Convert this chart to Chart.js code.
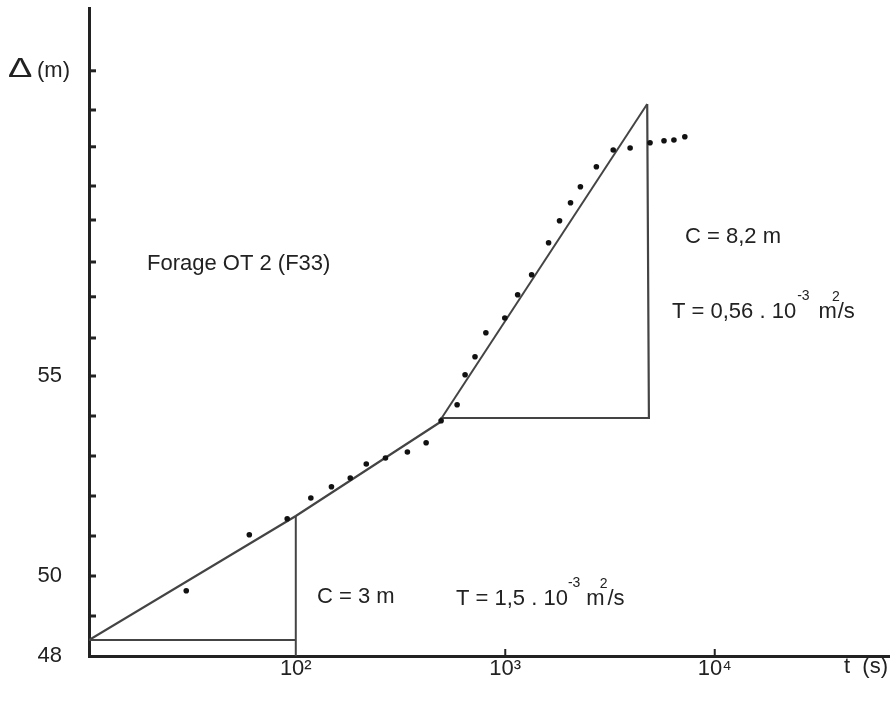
<!DOCTYPE html>
<html>
<head>
<meta charset="utf-8">
<title>Forage OT 2 (F33)</title>
<script src="https://cdn.jsdelivr.net/npm/chart.js@4.4.1/dist/chart.umd.min.js"></script>
<style>
  html, body { margin: 0; padding: 0; background: #fff; }
  #wrap { width: 893px; height: 706px; }
</style>
</head>
<body>
<div id="wrap"><canvas id="myChart" width="893" height="706"></canvas></div>
<script>
'use strict';
const ink = '#222';
const pencil = '#444';
const fontFamily = "'Liberation Sans', Arial, sans-serif";

// measured drawdown, time in s and drawdown in m
const pointTimes = [30, 60, 91, 118, 148, 182, 217, 268, 341, 419, 494, 589, 643, 717, 808, 995, 1146, 1336, 1610, 1816, 2049, 2284, 2722, 3276, 3945, 4910, 5725, 6385, 7197];
const pointDrawdowns = [49.63, 51.03, 51.43, 51.95, 52.23, 52.45, 52.8, 52.95, 53.1, 53.33, 53.88, 54.28, 55.03, 55.48, 56.08, 56.45, 57.03, 57.53, 58.33, 58.88, 59.33, 59.73, 60.23, 60.65, 60.7, 60.83, 60.88, 60.9, 60.98];

// first straight line (C = 3 m) and its construction lines
const fitATimes = [10.3, 100, 490];
const fitADrawdowns = [48.4, 51.5, 53.85];
const baseATimes = [10.3, 100];
const baseADrawdowns = [48.4, 48.4];
const riseATimes = [100, 100];
const riseADrawdowns = [48, 51.5];

// second straight line (C = 8,2 m) and its construction lines
const fitBTimes = [490, 4760];
const fitBDrawdowns = [53.9, 61.8];
const baseBTimes = [490, 4850, 4760];
const baseBDrawdowns = [53.95, 53.95, 61.8];

// axes
const xMin = 10.3;
const xMax = 67900;
const yMin = 48;
const yMax = 64.2;
const decadeTicks = [100, 1000, 10000];
const decadeLabels = ['10²', '10³', '10⁴'];
const yLabelTicks = [48, 50, 55];
// hand-drawn marks on the y axis (upper ones drift a little)
const yMarkTicks = [49, 50, 51, 52, 53, 54, 55, 55.95, 56.98, 57.85, 58.9, 59.75, 60.73, 61.65, 62.63];
const xMarkTicks = [1000, 10000];

function toPoints(xs, ys) {
  let pts = [];
  for (let i = 0; i < xs.length; i++) {
    pts.push({ x: xs[i], y: ys[i] });
  }
  return pts;
}

function lineSet(xs, ys, width) {
  return {
    data: toPoints(xs, ys),
    showLine: true,
    borderColor: pencil,
    borderWidth: width,
    pointRadius: 0,
    fill: false,
    tension: 0,
  };
}

// draws a run of text pieces: [text, size, rise, dx]
function drawPieces(ctx, pieces, x, baseline) {
  let cx = x;
  for (const p of pieces) {
    ctx.font = p[1] + 'px ' + fontFamily;
    cx += p[3] || 0;
    ctx.fillText(p[0], cx, baseline - (p[2] || 0));
    cx += ctx.measureText(p[0]).width;
  }
}

const paperPlugin = {
  id: 'paper',
  afterDraw(chart) {
    const ctx = chart.ctx;
    const xs = chart.scales.x;
    const ys = chart.scales.y;
    const area = chart.chartArea;
    ctx.save();
    ctx.strokeStyle = ink;
    ctx.lineWidth = 3;
    // small marks on the inside of the y axis
    for (const v of yMarkTicks) {
      const py = ys.getPixelForValue(v);
      ctx.beginPath();
      ctx.moveTo(area.left, py);
      ctx.lineTo(area.left + 7, py);
      ctx.stroke();
    }
    ctx.lineWidth = 2;
    for (const v of xMarkTicks) {
      const px = xs.getPixelForValue(v);
      ctx.beginPath();
      ctx.moveTo(px, area.bottom);
      ctx.lineTo(px, area.bottom - 7);
      ctx.stroke();
    }

    ctx.fillStyle = ink;
    ctx.textAlign = 'left';
    ctx.textBaseline = 'alphabetic';
    // wide delta like the hand lettering
    ctx.save();
    ctx.translate(8, 77);
    ctx.scale(1.35, 1);
    ctx.font = '27px ' + fontFamily;
    ctx.fillText('Δ', 0, 0);
    ctx.restore();
    drawPieces(ctx, [['(m)', 22, 0, 0]], 37, 77);
    drawPieces(ctx, [['t  (s)', 22, 0, 0]], 844, 673);
    drawPieces(ctx, [['Forage OT 2 (F33)', 22, 0, 0]], 147, 270);
    drawPieces(ctx, [['C = 8,2 m', 22, 0, 0]], 685, 243);
    drawPieces(ctx, [['T = 0,56 . 10', 22, 0, 0], ['-3', 14, 18, 1], ['m', 22, 0, 9], ['2', 14, 17, -5], ['/s', 22, 0, -2]], 672, 318);
    drawPieces(ctx, [['C = 3 m', 22, 0, 0]], 317, 603);
    drawPieces(ctx, [['T = 1,5 . 10', 22, 0, 0], ['-3', 14, 18, 0], ['m', 22, 0, 6], ['2', 14, 17, -5], ['/s', 22, 0, 0]], 456, 605);
    ctx.restore();
  }
};

const data = {
  datasets: [
    {
      data: toPoints(pointTimes, pointDrawdowns),
      showLine: false,
      pointRadius: 2.8,
      pointBackgroundColor: '#111',
      pointBorderWidth: 0,
    },
    lineSet(fitATimes, fitADrawdowns, 2.2),
    lineSet(baseATimes, baseADrawdowns, 2),
    lineSet(riseATimes, riseADrawdowns, 2),
    lineSet(fitBTimes, fitBDrawdowns, 2),
    lineSet(baseBTimes, baseBDrawdowns, 2.2),
  ],
};

const config = {
  type: 'scatter',
  data: data,
  options: {
    responsive: false,
    animation: false,
    layout: { padding: { top: 8, right: 0, bottom: 0, left: 0 } },
    plugins: {
      legend: { display: false },
      tooltip: { enabled: false },
    },
    scales: {
      x: {
        type: 'logarithmic',
        min: xMin,
        max: xMax,
        border: { display: true, color: ink, width: 3 },
        grid: { display: true, drawOnChartArea: false, drawTicks: false },
        ticks: {
          autoSkip: false,
          maxRotation: 0,
          padding: 0,
          color: ink,
          font: { family: fontFamily, size: 22 },
          callback: function (value) {
            for (let i = 0; i < decadeTicks.length; i++) {
              if (Math.abs(value - decadeTicks[i]) < 1e-6) {
                return decadeLabels[i];
              }
            }
            return '';
          },
        },
        afterFit: function (scale) {
          scale.height = 50;
          scale.paddingLeft = 0;
          scale.paddingRight = 0;
        },
      },
      y: {
        type: 'linear',
        min: yMin,
        max: yMax,
        border: { display: true, color: ink, width: 3 },
        grid: { display: true, drawOnChartArea: false, drawTicks: false },
        ticks: {
          stepSize: 1,
          autoSkip: false,
          padding: 27,
          color: ink,
          font: { family: fontFamily, size: 22 },
          callback: function (value) {
            return yLabelTicks.includes(value) ? String(value) : '';
          },
        },
        afterFit: function (scale) {
          scale.width = 89;
          scale.paddingTop = 0;
          scale.paddingBottom = 0;
        },
      },
    },
  },
  plugins: [paperPlugin],
};

const canvasChart = document.getElementById('myChart');
const myChart = new Chart(canvasChart, config);
</script>
</body>
</html>
